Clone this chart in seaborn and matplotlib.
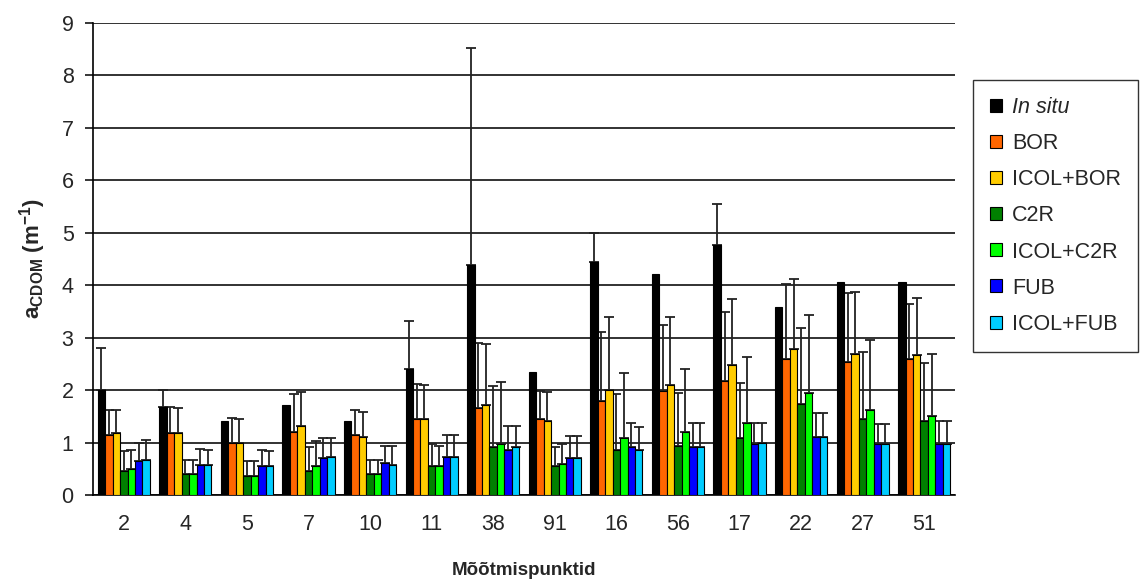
import numpy as np
import pandas as pd
import matplotlib
matplotlib.use("Agg")
import matplotlib.pyplot as plt
import seaborn as sns

# ---------------- data ----------------
stations = ["2", "4", "5", "7", "10", "11", "38", "91", "16", "56", "17", "22", "27", "51"]
series = ["In situ", "BOR", "ICOL+BOR", "C2R", "ICOL+C2R", "FUB", "ICOL+FUB"]
colors = ["#000000", "#FF6600", "#FFCC00", "#008000", "#00FF00", "#0000FF", "#00CCFF"]

in_situ   = [2.00, 1.68, 1.42, 1.72, 1.42, 2.40, 4.39, 2.34, 4.45, 4.21, 4.77, 3.59, 4.06, 4.06]
bor       = [1.14, 1.18, 1.00, 1.21, 1.14, 1.44, 1.65, 1.45, 1.80, 1.98, 2.18, 2.59, 2.53, 2.59]
icol_bor  = [1.18, 1.18, 1.00, 1.32, 1.11, 1.44, 1.72, 1.42, 2.00, 2.10, 2.48, 2.78, 2.69, 2.66]
c2r       = [0.46, 0.40, 0.37, 0.46, 0.40, 0.55, 0.91, 0.56, 0.85, 0.93, 1.08, 1.74, 1.44, 1.42]
icol_c2r  = [0.49, 0.40, 0.37, 0.55, 0.40, 0.55, 0.97, 0.59, 1.08, 1.21, 1.38, 1.94, 1.62, 1.51]
fub       = [0.65, 0.58, 0.55, 0.70, 0.61, 0.73, 0.86, 0.70, 0.91, 0.91, 0.97, 1.11, 0.97, 0.97]
icol_fub  = [0.67, 0.58, 0.55, 0.73, 0.58, 0.73, 0.91, 0.70, 0.85, 0.91, 0.99, 1.11, 0.97, 0.97]

# upward (plus) error magnitudes
err_in_situ  = [0.81, 0.32, 0.00, 0.00, 0.00, 0.91, 4.14, 0.00, 0.55, 0.00, 0.78, 0.00, 0.00, 0.00]
err_bor      = [0.48, 0.50, 0.47, 0.71, 0.48, 0.68, 1.25, 0.54, 1.31, 1.27, 1.30, 1.43, 1.32, 1.05]
err_icol_bor = [0.44, 0.47, 0.44, 0.65, 0.48, 0.66, 1.15, 0.55, 1.40, 1.30, 1.25, 1.34, 1.19, 1.10]
err_c2r      = [0.37, 0.27, 0.28, 0.45, 0.27, 0.42, 1.16, 0.35, 1.07, 1.02, 1.05, 1.45, 1.28, 1.09]
err_icol_c2r = [0.36, 0.27, 0.28, 0.48, 0.27, 0.39, 1.19, 0.38, 1.25, 1.19, 1.26, 1.49, 1.34, 1.18]
err_fub      = [0.35, 0.30, 0.30, 0.38, 0.32, 0.42, 0.46, 0.43, 0.47, 0.47, 0.41, 0.45, 0.38, 0.45]
err_icol_fub = [0.38, 0.27, 0.28, 0.35, 0.35, 0.42, 0.41, 0.43, 0.44, 0.47, 0.39, 0.45, 0.38, 0.45]

yticks = [0, 1, 2, 3, 4, 5, 6, 7, 8, 9]
xlabel = "Mõõtmispunktid"

values = [in_situ, bor, icol_bor, c2r, icol_c2r, fub, icol_fub]
errors = [err_in_situ, err_bor, err_icol_bor, err_c2r, err_icol_c2r, err_fub, err_icol_fub]

rows = []
for s, vals in zip(series, values):
    for st, v in zip(stations, vals):
        rows.append({"station": st, "series": s, "value": v})
df = pd.DataFrame(rows)

# ---------------- style ----------------
sns.set_theme(style="white")
plt.rcParams["font.family"] = ["Liberation Sans", "DejaVu Sans"]
plt.rcParams["mathtext.fontset"] = "custom"
plt.rcParams["mathtext.rm"] = "Liberation Sans"
plt.rcParams["mathtext.bf"] = "Liberation Sans:bold"
plt.rcParams["mathtext.it"] = "Liberation Sans:italic"

fig = plt.figure(figsize=(11.42, 5.85), dpi=100)
ax = fig.add_axes([93 / 1142, 1 - 495 / 585, (955 - 93) / 1142, (495 - 23) / 585])

sns.barplot(data=df, x="station", y="value", hue="series", order=stations,
            hue_order=series, palette=colors, width=0.845, gap=0,
            errorbar=None, edgecolor="black", linewidth=0.8, saturation=1,
            ax=ax, legend=True, zorder=3)

# error bars (plus only)
for cont, errs in zip(ax.containers, errors):
    xs, ys, es = [], [], []
    for p, e in zip(cont.patches, errs):
        if e > 0:
            xs.append(p.get_x() + p.get_width() / 2)
            ys.append(p.get_height())
            es.append(e)
    if xs:
        ax.errorbar(xs, ys, yerr=[np.zeros(len(es)), es], fmt="none",
                    ecolor="#222222", elinewidth=1.3, capsize=3.6,
                    capthick=1.3, zorder=2.5)

ax.set_xlim(-0.5, len(stations) - 0.5)
ax.set_ylim(0, 9)
ax.set_yticks(yticks)
ax.set_yticklabels([str(t) for t in yticks], fontsize=15.5)
ax.yaxis.grid(True, color="#222222", linewidth=1.3, zorder=0)
ax.xaxis.grid(False)
ax.set_axisbelow(True)

ax.set_xticks(range(len(stations)))
ax.set_xticklabels(stations, fontsize=15.5)
ax.set_xticks(np.arange(-0.5, len(stations), 1), minor=True)
ax.tick_params(axis="x", which="major", length=0, pad=14)
ax.tick_params(axis="x", which="minor", length=6, width=1.1, color="black", direction="out")
ax.tick_params(axis="y", which="major", length=6, width=1.1, color="black", direction="out", pad=8, left=True)

for side in ["top", "right"]:
    ax.spines[side].set_visible(False)
for side in ["left", "bottom"]:
    ax.spines[side].set_visible(True)
    ax.spines[side].set_color("black")
    ax.spines[side].set_linewidth(1.2)

ax.set_xlabel(xlabel, fontsize=13.5, fontweight="bold", labelpad=19)
ax.set_ylabel(r"$\mathbf{a_{CDOM}}\ \mathbf{(m^{-1})}$", fontsize=16, labelpad=10)

handles, labels = ax.get_legend_handles_labels()
ax.get_legend().remove()
leg = fig.legend(handles, series, loc="upper left",
                 bbox_to_anchor=(973 / 1142, 1 - 80 / 585),
                 fontsize=15.5, frameon=True, fancybox=False, edgecolor="black",
                 handlelength=0.55, handleheight=0.55, handletextpad=0.45,
                 labelspacing=0.7, borderpad=0.8, borderaxespad=0)
leg.get_frame().set_linewidth(1.0)
leg.get_texts()[0].set_fontstyle("italic")

fig.savefig("out.png", dpi=100)
